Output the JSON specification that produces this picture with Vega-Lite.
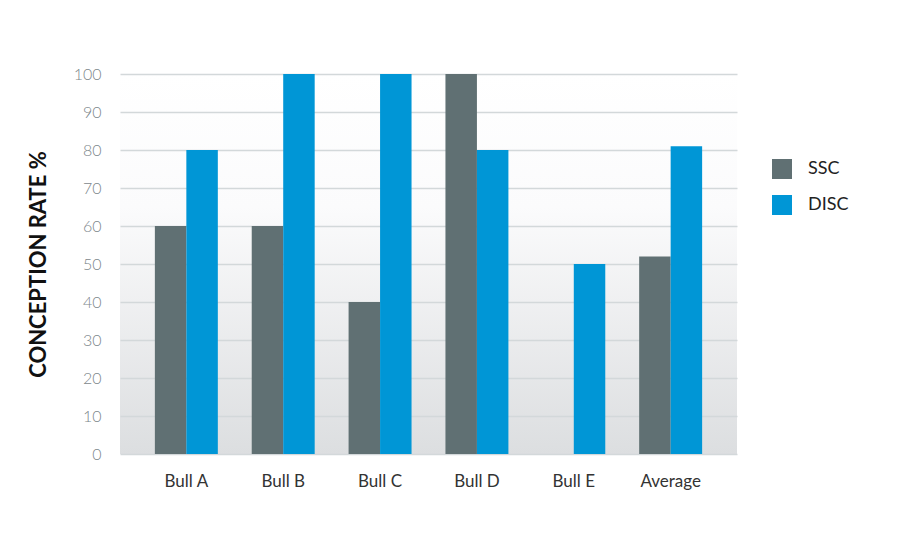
{
  "$schema": "https://vega.github.io/schema/vega-lite/v6.json",
  "autosize": "none",
  "width": 617,
  "height": 380,
  "padding": {"left": 120, "top": 74, "right": 163, "bottom": 89},
  "background": "#ffffff",
  "data": {
    "values": [
      {"bull": "Bull A", "method": "SSC", "rate": 60},
      {"bull": "Bull A", "method": "DISC", "rate": 80},
      {"bull": "Bull B", "method": "SSC", "rate": 60},
      {"bull": "Bull B", "method": "DISC", "rate": 100},
      {"bull": "Bull C", "method": "SSC", "rate": 40},
      {"bull": "Bull C", "method": "DISC", "rate": 100},
      {"bull": "Bull D", "method": "SSC", "rate": 100},
      {"bull": "Bull D", "method": "DISC", "rate": 80},
      {"bull": "Bull E", "method": "SSC", "rate": 0},
      {"bull": "Bull E", "method": "DISC", "rate": 50},
      {"bull": "Average", "method": "SSC", "rate": 52},
      {"bull": "Average", "method": "DISC", "rate": 81}
    ]
  },
  "mark": {"type": "bar"},
  "encoding": {
    "x": {
      "field": "bull",
      "type": "nominal",
      "sort": null,
      "title": null,
      "scale": {"paddingInner": 0.35, "paddingOuter": 0.36},
      "axis": {
        "labelAngle": 0,
        "labelFont": "Lato",
        "labelFontSize": 17,
        "labelColor": "#333333",
        "labelPadding": 19,
        "ticks": false,
        "domain": false
      }
    },
    "xOffset": {"field": "method", "type": "nominal", "sort": ["SSC", "DISC"]},
    "y": {
      "field": "rate",
      "type": "quantitative",
      "title": "CONCEPTION RATE %",
      "scale": {"domain": [0, 100]},
      "axis": {
        "values": [0, 10, 20, 30, 40, 50, 60, 70, 80, 90, 100],
        "labelFont": "Lato",
        "labelFontSize": 16,
        "labelFontWeight": 300,
        "labelColor": "#7d878b",
        "labelPadding": 19,
        "ticks": false,
        "domain": false,
        "gridColor": "#d3d8da",
        "gridWidth": 1.5,
        "titleFont": "Lato",
        "titleFontSize": 22,
        "titleFontWeight": "bold",
        "titleColor": "#111111",
        "titlePadding": 23
      }
    },
    "color": {
      "field": "method",
      "type": "nominal",
      "sort": ["SSC", "DISC"],
      "scale": {"domain": ["SSC", "DISC"], "range": ["#607073", "#0096d6"]},
      "legend": {
        "title": null,
        "orient": "none",
        "legendX": 652,
        "legendY": 85,
        "symbolType": "square",
        "symbolSize": 400,
        "symbolStrokeWidth": 0,
        "labelFont": "Lato",
        "labelFontSize": 18,
        "labelColor": "#222222",
        "labelOffset": 16,
        "rowPadding": 16
      }
    }
  },
  "config": {
    "view": {
      "stroke": null,
      "fill": {
        "gradient": "linear",
        "x1": 0, "y1": 0, "x2": 0, "y2": 1,
        "stops": [
          {"offset": 0, "color": "#ffffff"},
          {"offset": 0.35, "color": "#fbfbfc"},
          {"offset": 1, "color": "#dcdee0"}
        ]
      }
    }
  }
}
